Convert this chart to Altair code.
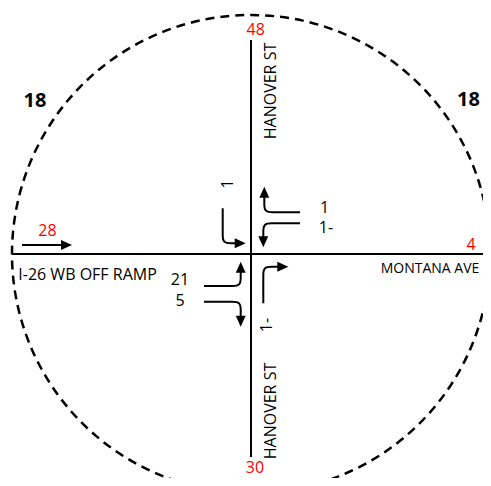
import altair as alt
import pandas as pd
import numpy as np

# ---- data (coordinates relative to intersection centre, y up) ----
circle_r = 239

road_x1 = [0, -239]
road_y1 = [214, 0]
road_x2 = [0, 239]
road_y2 = [-203, 0]

vol_labels = ["48", "30", "28", "4"]
vol_x = [4.7, 4, -203.5, 220]
vol_y = [224, -213.5, 23, 9]

peak_labels = ["18", "18"]
peak_x = [-216, 217.5]
peak_y = [153.5, 154.5]

street_labels = ["HANOVER ST", "HANOVER ST"]
street_x = [20, 20]
street_y = [163, -157]

street2_labels = ["I-26 WB OFF RAMP", "MONTANA AVE"]
street2_x = [-232.7, 129.7]
street2_y = [-21, -14.7]
street2_size = [16, 14]

turn_labels = ["1", "1", "1-", "21", "5", "1-"]
turn_x = [-23.5, 73.5, 75, -71, -71, 15.7]
turn_y = [70, 46, 26, -26.3, -46.5, -71]
turn_angle = [270, 0, 0, 0, 0, 270]

# arrows: start, corner (None = straight), tip
arrow_x0 = [-28.3, 49, 49, -47, -47, 12.3, -229]
arrow_y0 = [45.7, 41.7, 30.7, -32, -47.7, -49.3, 9]
arrow_cx = [-28.3, 13.3, 12.3, -10.3, -10.3, 12.3, None]
arrow_cy = [10.7, 41.7, 30.7, -32, -47.7, -12.7, None]
arrow_x1 = [-5.3, 13.3, 12.3, -10.3, -10.3, 37.3, -179]
arrow_y1 = [10.7, 67.3, 6.7, -7.7, -72.7, -12.7, 9]

FILLET = 10
HEAD = 11

# ---- build tables ----
line_rows = []
head_rows = []
for i in range(len(arrow_x0)):
    S = np.array([arrow_x0[i], arrow_y0[i]], float)
    T = np.array([arrow_x1[i], arrow_y1[i]], float)
    if arrow_cx[i] is None:
        d = (T - S) / np.linalg.norm(T - S)
        E = T - d * 5
        pts = [S, S, S, E, E, E]
        dend = d
    else:
        C = np.array([arrow_cx[i], arrow_cy[i]], float)
        d1 = (C - S) / np.linalg.norm(C - S)
        d2 = (T - C) / np.linalg.norm(T - C)
        A = C - d1 * FILLET
        B = C + d2 * FILLET
        E = T - d2 * 5
        pts = [S, A, A, A, C, B, B, B, E]
        dend = d2
    for k, p in enumerate(pts):
        line_rows.append({"id": i, "seq": k, "x": p[0], "y": p[1]})
    hc = T - dend * HEAD / 2
    ang = (np.degrees(np.arctan2(-dend[1], dend[0])) + 360) % 360
    head_rows.append({"x": hc[0], "y": hc[1], "angle": ang})

lines_df = pd.DataFrame(line_rows)
heads_df = pd.DataFrame(head_rows)
roads_df = pd.DataFrame({"x": road_x1, "y": road_y1, "x2": road_x2, "y2": road_y2})
vol_df = pd.DataFrame({"t": vol_labels, "x": vol_x, "y": vol_y})
peak_df = pd.DataFrame({"t": peak_labels, "x": peak_x, "y": peak_y})
street_df = pd.DataFrame({"t": street_labels, "x": street_x, "y": street_y})
street2_df = pd.DataFrame({"t": street2_labels, "x": street2_x, "y": street2_y,
                           "s": street2_size})
turn_df = pd.DataFrame({"t": turn_labels, "x": turn_x, "y": turn_y, "angle": turn_angle})
circle_df = pd.DataFrame({"x": [0], "y": [0]})

W, H = 475, 470
XS = alt.Scale(domain=[-243, -243 + W], nice=False, zero=False)
YS = alt.Scale(domain=[246 - H, 246], nice=False, zero=False)


def X(f="x"):
    return alt.X(f"{f}:Q", scale=XS, axis=None)


def Y(f="y"):
    return alt.Y(f"{f}:Q", scale=YS, axis=None)


FONT = "Open Sans"

circle = alt.Chart(circle_df).mark_point(
    shape="circle", size=(2 * circle_r) ** 2, filled=False, color="black",
    strokeWidth=2.5, strokeDash=[9, 6], opacity=1
).encode(x=X(), y=Y())

roads = alt.Chart(roads_df).mark_rule(color="black", strokeWidth=2).encode(
    x=X(), y=Y(), x2="x2:Q", y2="y2:Q"
)

arrows = alt.Chart(lines_df).mark_line(
    interpolate="basis", color="black", strokeWidth=2
).encode(x=X(), y=Y(), detail="id:N", order="seq:Q")

heads = alt.Chart(heads_df).mark_point(
    shape="M1,0L-1,-0.9L-1,0.9Z", filled=True, color="black", size=121,
    opacity=1, strokeWidth=0
).encode(x=X(), y=Y(), angle=alt.Angle("angle:Q", scale=None))

vols = alt.Chart(vol_df).mark_text(
    font=FONT, fontSize=16, color="#ff0000", align="center", baseline="middle"
).encode(x=X(), y=Y(), text="t:N")

peaks = alt.Chart(peak_df).mark_text(
    font=FONT, fontSize=20, fontWeight="bold", color="black",
    align="center", baseline="middle"
).encode(x=X(), y=Y(), text="t:N")

streets = alt.Chart(street_df).mark_text(
    font=FONT, fontSize=16, color="black", align="center", baseline="middle",
    angle=270
).encode(x=X(), y=Y(), text="t:N")

streets2 = alt.Chart(street2_df).mark_text(
    font=FONT, color="black", align="left", baseline="middle"
).encode(x=X(), y=Y(), text="t:N", size=alt.Size("s:Q", scale=None))

turns = alt.Chart(turn_df).mark_text(
    font=FONT, fontSize=16, color="black", align="center", baseline="middle"
).encode(x=X(), y=Y(), text="t:N", angle=alt.Angle("angle:Q", scale=None))

chart = alt.layer(
    circle, roads, arrows, heads, vols, peaks, streets, streets2, turns
).properties(
    width=W, height=H, padding=0, autosize="none", background="white"
).configure_view(stroke=None)

chart.save("out.html", embed_options={"renderer": "svg", "actions": False})
